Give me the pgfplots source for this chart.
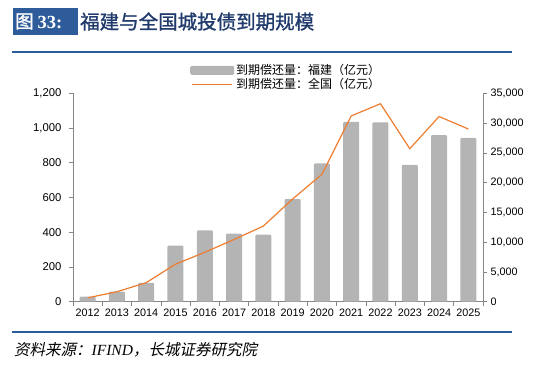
\documentclass[border=0pt]{standalone}
\usepackage{fontspec}
\usepackage{pgfplots}
\pgfplotsset{compat=1.18}
\setmainfont{Liberation Sans}
\newfontfamily\cjk{Noto Sans CJK SC}
\newfontfamily\cjktitle{Noto Sans CJK SC}[FakeBold=1.2]
\newfontfamily\cjkit{Noto Sans CJK SC}[FakeSlant=0.2]
\newfontfamily\serif{Liberation Serif}
\definecolor{barGray}{HTML}{B4B4B4}
\definecolor{lineOrange}{HTML}{ED7D31}
\definecolor{boxBlue}{HTML}{2E5C9A}
\definecolor{titleBlue}{HTML}{1F3A6B}
\definecolor{axGray}{HTML}{868686}
\begin{document}
\begin{tikzpicture}[x=1pt,y=1pt]
\path[use as bounding box] (0,0) rectangle (550,365);
% title
\fill[boxBlue] (12.5,330) rectangle (77.5,356.5);
\node[anchor=west,text=white,inner sep=0] at (15,343.5) {\fontsize{18.5}{20}\selectfont{\cjktitle 图}\hspace{4pt}{\serif\bfseries 33:}};
\node[anchor=west,text=titleBlue,inner sep=0] at (80,343.5) {\cjktitle\fontsize{19.5}{21}\selectfont 福建与全国城投债到期规模};
\draw[boxBlue,line width=1.8pt] (12,313.3) -- (512,313.3);
\draw[boxBlue,line width=1.8pt] (12,33) -- (512,33);
\node[anchor=west,inner sep=0] at (14,15) {\fontsize{15.5}{17}\selectfont{\cjkit 资料来源：}{\serif\itshape IFIND}{\cjkit ，长城证券研究院}};

\begin{axis}[
  at={(73pt,63.3pt)}, anchor=south west, scale only axis,
  width=410pt, height=208.4pt,
  xmin=-0.5, xmax=13.5, ymin=0, ymax=1200,
  axis y line*=left, axis x line*=bottom,
  axis line style={axGray, line width=0.8pt},
  tick style={axGray, line width=0.6pt},
  tick align=outside, major tick length=4pt,
  ytick={0,200,...,1200},
  xtick={-0.5,0.5,...,13.5},
  x tick label as interval,
  xticklabels={2012,2013,2014,2015,2016,2017,2018,2019,2020,2021,2022,2023,2024,2025},
  /pgf/number format/assume math mode=true,
  /pgf/number format/1000 sep={,},
  xticklabel style={font=\fontsize{10.8}{12}\selectfont},
  yticklabel style={font=\fontsize{11.3}{12}\selectfont, xshift=-4pt},
  legend style={draw=none, fill=none, at={(0.52,1.005)}, anchor=south,
    font=\cjk\fontsize{12}{13}\selectfont, row sep=-2pt, inner sep=0pt,
    /tikz/every even column/.append style={column sep=2pt}},
  legend cell align=left,
]
\addplot[ybar, bar width=16pt, fill=barGray, draw=none, rounded corners=1pt,
  legend image code/.code={\fill[barGray, rounded corners=1.5pt] (0pt,-4.5pt) rectangle (44pt,4.5pt);}]
  coordinates {(0,29) (1,58) (2,108) (3,323) (4,410) (5,392) (6,386) (7,591) (8,796) (9,1035) (10,1033) (11,788) (12,959) (13,943)};
\addlegendentry{到期偿还量：福建（亿元）}
\addlegendimage{legend image code/.code={\draw[lineOrange, line width=1.2pt] (2pt,0pt) -- (42pt,0pt);}}
\addlegendentry{到期偿还量：全国（亿元）}
\end{axis}

\begin{axis}[
  at={(73pt,63.3pt)}, anchor=south west, scale only axis,
  width=410pt, height=208.4pt,
  xmin=-0.5, xmax=13.5, ymin=0, ymax=35000,
  axis y line*=right, axis x line=none,
  axis line style={axGray, line width=0.8pt},
  tick style={axGray, line width=0.6pt},
  tick align=outside, major tick length=4pt,
  ytick={0,5000,...,35000},
  scaled y ticks=false,
  /pgf/number format/assume math mode=true,
  /pgf/number format/1000 sep={,},
  yticklabel style={font=\fontsize{10.8}{12}\selectfont},
]
\addplot[lineOrange, line width=1.2pt, mark=none]
  coordinates {(0,650) (1,1675) (2,3200) (3,6300) (4,8300) (5,10450) (6,12700) (7,17250) (8,21400) (9,31200) (10,33250) (11,25700) (12,31100) (13,29000)};
\end{axis}
\end{tikzpicture}
\end{document}
